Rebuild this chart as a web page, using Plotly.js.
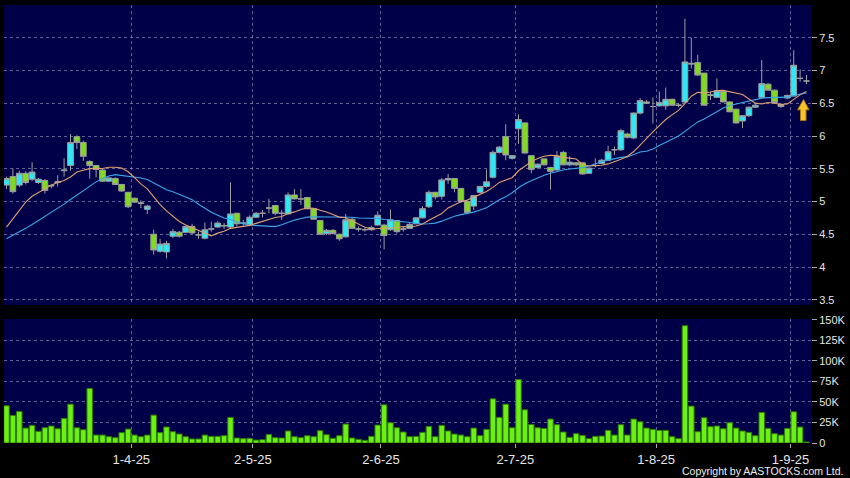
<!DOCTYPE html>
<html>
<head>
<meta charset="utf-8">
<script src="https://cdn.plot.ly/plotly-3.0.1.min.js"></script>
<style>
html,body{margin:0;padding:0;background:#000;}
#chart{width:850px;height:478px;}
</style>
</head>
<body>
<div id="chart"></div>
<script>
// ---- data ----
const dates = [
'2025-03-04','2025-03-05','2025-03-06','2025-03-07',
'2025-03-10','2025-03-11','2025-03-12','2025-03-13','2025-03-14',
'2025-03-17','2025-03-18','2025-03-19','2025-03-20','2025-03-21',
'2025-03-24','2025-03-25','2025-03-26','2025-03-27','2025-03-28',
'2025-03-31',
'2025-04-01','2025-04-02','2025-04-03',
'2025-04-07','2025-04-08','2025-04-09','2025-04-10','2025-04-11',
'2025-04-14','2025-04-15','2025-04-16','2025-04-17',
'2025-04-22','2025-04-23','2025-04-24','2025-04-25',
'2025-04-28','2025-04-29','2025-04-30',
'2025-05-02',
'2025-05-06','2025-05-07','2025-05-08','2025-05-09',
'2025-05-12','2025-05-13','2025-05-14','2025-05-15','2025-05-16',
'2025-05-19','2025-05-20','2025-05-21','2025-05-22','2025-05-23',
'2025-05-26','2025-05-27','2025-05-28','2025-05-29','2025-05-30',
'2025-06-02','2025-06-03','2025-06-04','2025-06-05','2025-06-06',
'2025-06-09','2025-06-10','2025-06-11','2025-06-12','2025-06-13',
'2025-06-16','2025-06-17','2025-06-18','2025-06-19','2025-06-20',
'2025-06-23','2025-06-24','2025-06-25','2025-06-26','2025-06-27',
'2025-06-30',
'2025-07-02','2025-07-03','2025-07-04',
'2025-07-07','2025-07-08','2025-07-09','2025-07-10','2025-07-11',
'2025-07-14','2025-07-15','2025-07-16','2025-07-17','2025-07-18',
'2025-07-21','2025-07-22','2025-07-23','2025-07-24','2025-07-25',
'2025-07-28','2025-07-29','2025-07-30','2025-07-31',
'2025-08-01',
'2025-08-04','2025-08-05','2025-08-06','2025-08-07','2025-08-08',
'2025-08-11','2025-08-12','2025-08-13','2025-08-14','2025-08-15',
'2025-08-18','2025-08-19','2025-08-20','2025-08-21','2025-08-22',
'2025-08-25','2025-08-26','2025-08-27','2025-08-28','2025-08-29',
'2025-09-01','2025-09-02','2025-09-03'
];

const openP = [
5.25,5.38,5.25,5.43,5.34,5.29,5.32,5.24,5.29,5.47,
5.55,5.99,5.90,5.61,5.55,5.48,5.31,5.35,5.26,5.14,
5.05,4.98,4.88,4.50,4.24,4.23,4.47,4.53,4.53,4.62,
4.49,4.44,4.58,4.61,4.63,4.61,4.82,4.67,4.65,4.76,
4.82,4.90,4.94,4.82,4.81,5.10,5.04,5.06,4.89,4.71,
4.51,4.56,4.50,4.46,4.73,4.58,4.57,4.57,4.64,4.64,
4.57,4.71,4.58,4.59,4.66,4.75,4.92,5.14,5.08,5.33,
5.35,5.20,5.00,4.93,5.14,5.23,5.37,5.75,5.99,5.66,
6.11,6.20,5.70,5.52,5.65,5.52,5.48,5.75,5.56,5.59,
5.59,5.43,5.55,5.58,5.63,5.79,5.79,6.03,5.97,6.35,
6.52,6.45,6.46,6.46,6.56,6.47,6.52,7.11,7.12,6.96,
6.63,6.59,6.68,6.52,6.41,6.23,6.31,6.44,6.59,6.79,
6.70,6.45,6.58,6.61,6.88,6.84
];
const highP = [
5.38,5.50,5.47,5.46,5.60,5.36,5.34,5.27,5.40,5.66,
6.03,6.01,5.93,5.63,5.56,5.50,5.37,5.37,5.27,5.15,
5.06,5.02,4.95,4.57,4.43,4.40,4.58,4.55,4.63,4.66,
4.54,4.68,4.69,4.70,4.67,5.29,4.83,4.72,4.79,4.84,
4.87,5.04,4.94,4.87,5.14,5.19,5.19,5.07,4.89,4.71,
4.58,4.58,4.51,4.81,4.75,4.62,4.60,4.63,4.85,4.66,
4.88,4.72,4.62,4.67,4.76,4.93,5.17,5.15,5.36,5.42,
5.36,5.20,5.00,5.10,5.24,5.49,5.78,5.85,6.18,5.71,
6.33,6.21,5.70,5.58,5.66,5.53,5.77,5.77,5.69,5.60,
5.60,5.52,5.66,5.65,5.85,5.84,6.11,6.05,6.36,6.58,
6.55,6.59,6.68,6.74,6.57,6.50,7.79,7.50,7.24,6.96,
6.68,6.88,6.69,6.53,6.41,6.32,6.45,6.49,7.16,6.81,
6.71,6.50,6.63,7.31,7.02,6.93
];
const lowP = [
5.19,5.12,5.22,5.26,5.31,5.27,5.12,5.20,5.23,5.38,
5.47,5.80,5.62,5.35,5.37,5.30,5.30,5.25,5.15,4.90,
4.98,4.90,4.81,4.19,4.22,4.13,4.44,4.45,4.52,4.50,
4.43,4.42,4.54,4.60,4.58,4.58,4.62,4.63,4.63,4.75,
4.76,4.82,4.79,4.72,4.80,5.03,4.95,4.88,4.72,4.49,
4.49,4.50,4.40,4.45,4.58,4.54,4.54,4.55,4.63,4.27,
4.55,4.51,4.54,4.58,4.65,4.74,4.90,5.03,5.03,5.27,
5.14,4.98,4.81,4.87,5.12,5.21,5.35,5.73,5.63,5.64,
5.88,5.73,5.43,5.50,5.55,5.18,5.47,5.55,5.54,5.54,
5.41,5.42,5.52,5.57,5.62,5.71,5.77,5.96,5.95,6.33,
6.49,6.19,6.45,6.40,6.46,6.44,6.50,7.03,6.92,6.47,
6.55,6.58,6.52,6.36,6.19,6.12,6.29,6.43,6.58,6.69,
6.50,6.43,6.56,6.60,6.83,6.79
];
const closeP = [
5.35,5.15,5.43,5.29,5.45,5.34,5.17,5.24,5.30,5.48,
5.90,5.90,5.69,5.55,5.49,5.31,5.36,5.26,5.16,4.92,
4.99,4.97,4.93,4.26,4.35,4.36,4.54,4.47,4.62,4.52,
4.49,4.57,4.58,4.67,4.63,4.81,4.66,4.67,4.76,4.82,
4.82,4.90,4.82,4.82,5.10,5.04,5.04,4.89,4.73,4.50,
4.56,4.51,4.43,4.72,4.59,4.58,4.57,4.60,4.79,4.48,
4.72,4.54,4.58,4.65,4.75,4.89,5.14,5.07,5.33,5.35,
5.20,5.00,4.83,5.09,5.23,5.30,5.75,5.83,5.71,5.70,
6.25,5.74,5.49,5.57,5.56,5.46,5.69,5.56,5.60,5.56,
5.42,5.51,5.55,5.63,5.76,5.79,6.08,5.98,6.35,6.54,
6.50,6.45,6.51,6.56,6.47,6.47,7.13,7.10,6.93,6.47,
6.62,6.69,6.52,6.37,6.20,6.31,6.44,6.47,6.80,6.70,
6.51,6.48,6.62,7.08,6.88,6.84
];

// volume in shares
const volume = [
45400,33600,38500,18200,21500,14200,18600,20700,17400,30000,
47400,18600,16200,66500,9700,9700,7700,6500,12600,17000,
9700,7700,9700,34000,12600,19500,13800,11000,7700,4900,
4900,9700,8100,8100,8900,31200,6100,5300,5700,3600,
4000,10500,6500,6100,14600,7700,6500,8900,7700,15000,
10100,5700,8900,23100,6100,4500,3200,8100,21900,46600,
24700,18600,13400,7700,8100,13000,20300,7700,21500,14600,
10900,9700,7700,18200,8900,16600,53900,31200,47400,18600,
77400,40500,22700,18600,17800,29200,22300,13400,6900,11400,
9300,5300,8100,8500,15400,9700,22300,9700,29200,25900,
18200,16600,15400,15400,7700,5300,143000,45000,13800,30800,
19900,20700,17400,24700,18200,14600,13000,8900,37300,17800,
11400,9700,17800,38100,19500,1200
];

// moving averages (orange = short, blue = long) as drawn on the reference
const maShort = [
4.61,4.74,4.87,4.99,5.08,5.14,5.20,5.25,5.29,5.32,
5.375,5.45,5.476,5.502,5.506,5.503,5.522,5.524,5.51,5.454,
5.363,5.27,5.194,5.065,4.951,4.856,4.774,4.695,4.641,4.601,
4.551,4.511,4.476,4.517,4.545,4.59,4.602,4.622,4.636,4.666,
4.699,4.732,4.756,4.771,4.818,4.841,4.879,4.901,4.898,4.866,
4.84,4.801,4.762,4.752,4.701,4.655,4.608,4.579,4.585,4.583,
4.599,4.602,4.617,4.61,4.626,4.657,4.714,4.761,4.815,4.902,
4.95,4.996,5.021,5.065,5.113,5.154,5.215,5.291,5.329,5.364,
5.469,5.543,5.609,5.657,5.69,5.706,5.70,5.673,5.662,5.648,
5.565,5.542,5.548,5.554,5.574,5.607,5.646,5.688,5.763,5.861,
5.969,6.063,6.159,6.252,6.323,6.391,6.496,6.608,6.666,6.659,
6.671,6.695,6.696,6.677,6.65,6.634,6.565,6.502,6.489,6.512,
6.501,6.48,6.49,6.561,6.628,6.681
];
const maLong = [
4.43,4.48,4.53,4.59,4.65,4.71,4.77,4.83,4.90,4.96,
5.03,5.10,5.17,5.24,5.30,5.35,5.39,5.41,5.40,5.387,
5.369,5.36,5.335,5.284,5.229,5.18,5.148,5.11,5.076,5.028,
4.957,4.891,4.835,4.791,4.748,4.723,4.688,4.659,4.639,4.634,
4.625,4.622,4.616,4.644,4.682,4.716,4.741,4.762,4.767,4.766,
4.77,4.767,4.759,4.762,4.76,4.748,4.744,4.74,4.742,4.725,
4.72,4.702,4.69,4.681,4.664,4.656,4.661,4.67,4.70,4.743,
4.775,4.799,4.819,4.838,4.87,4.906,4.965,5.026,5.072,5.133,
5.21,5.27,5.315,5.361,5.402,5.43,5.458,5.482,5.496,5.506,
5.517,5.543,5.579,5.606,5.632,5.657,5.673,5.681,5.713,5.755,
5.767,5.803,5.854,5.903,5.949,5.999,6.071,6.148,6.215,6.26,
6.32,6.379,6.428,6.465,6.487,6.513,6.531,6.555,6.578,6.586,
6.586,6.588,6.593,6.619,6.639,6.658
];

const tickDates  = ['2025-04-01','2025-05-02','2025-06-02','2025-07-02','2025-08-01','2025-09-01'];
const tickLabels = ['1-4-25','2-5-25','2-6-25','2-7-25','1-8-25','1-9-25'];
const priceTicks = [3.5,4,4.5,5,5.5,6,6.5,7,7.5];
const priceTickLabels = ['3.5','4','4.5','5','5.5','6','6.5','7','7.5'];
const volTicks = [0,25000,50000,75000,100000,125000,150000];
const volTickLabels = ['0','25K','50K','75K','100K','125K','150K'];

// ---- chart ----
const idx = dates.map((d, i) => i);
const tickVals = tickDates.map(d => dates.indexOf(d) - 0.5);
const FONT = 'Liberation Sans, Arial, sans-serif';
const GRID = {showgrid:true, gridcolor:'rgba(130,130,180,0.75)', griddash:'3px,3px', gridwidth:1,
              zeroline:false, showline:false, fixedrange:true};

const traces = [
  {
    type:'candlestick', x: idx, open: openP, high: highP, low: lowP, close: closeP,
    text: dates, xaxis:'x2', yaxis:'y2', whiskerwidth:0, hoverinfo:'skip',
    increasing:{line:{color:'#9e9e9e', width:1}, fillcolor:'#2ee8f4'},
    decreasing:{line:{color:'#9e9e9e', width:1}, fillcolor:'#80da1e'}
  },
  {type:'scatter', mode:'lines', x: idx, y: maLong, xaxis:'x2', yaxis:'y2',
   line:{color:'#3aa6e6', width:1.1}, hoverinfo:'skip'},
  {type:'scatter', mode:'lines', x: idx, y: maShort, xaxis:'x2', yaxis:'y2',
   line:{color:'#e0a070', width:1.1}, hoverinfo:'skip'},
  {type:'bar', x: idx, y: volume, xaxis:'x', yaxis:'y', hoverinfo:'skip',
   marker:{color:'#6cf014', line:{color:'#2e7a00', width:1}}}
];

const layout = {
  width:850, height:478,
  paper_bgcolor:'#000000', plot_bgcolor:'#000048',
  margin:{l:4, r:39, t:5, b:35},
  showlegend:false,
  boxgap:0.1, boxgroupgap:0,
  bargap:0.14,
  xaxis: Object.assign({}, GRID, {
    domain:[0,1], anchor:'y', range:[-0.39,125.7],
    tickmode:'array', tickvals: tickVals, ticktext: tickLabels,
    ticks:'outside', ticklen:4, tickcolor:'#aaaaaa',
    tickfont:{family:FONT, size:13, color:'#e6e6e6'}
  }),
  xaxis2: Object.assign({}, GRID, {
    domain:[0,1], anchor:'y2', range:[-0.39,125.7],
    tickmode:'array', tickvals: tickVals, showticklabels:false, ticks:'',
    rangeslider:{visible:false}
  }),
  yaxis: Object.assign({}, GRID, {
    domain:[0,0.2831], anchor:'x', side:'right', range:[0,151200],
    tickmode:'array', tickvals: volTicks, ticktext: volTickLabels,
    ticks:'outside', ticklen:5, tickcolor:'#aaaaaa',
    tickfont:{family:FONT, size:11, color:'#e6e6e6'}
  }),
  yaxis2: Object.assign({}, GRID, {
    domain:[0.3151,1], anchor:'x2', side:'right', range:[3.42,8.0],
    tickmode:'array', tickvals: priceTicks, ticktext: priceTickLabels,
    ticks:'outside', ticklen:5, tickcolor:'#aaaaaa',
    tickfont:{family:FONT, size:11, color:'#e6e6e6'}
  }),
  shapes:[
    {type:'path', xref:'x2', yref:'y2',
     path:'M 123.6 6.40 L 124.53 6.556 L 125.4 6.40 L 124.92 6.40 L 124.92 6.236 L 124.06 6.236 L 124.06 6.40 Z',
     fillcolor:'#f6c42a', line:{color:'#b07a12', width:1}}
  ],
  annotations:[
    {xref:'paper', yref:'paper', x:1.0421, y:-0.064, xanchor:'right', yanchor:'middle',
     text:'Copyright by AASTOCKS.com Ltd.', showarrow:false,
     font:{family:FONT, size:10.5, color:'#eeeeee'}}
  ]
};

Plotly.newPlot('chart', traces, layout, {displayModeBar:false, staticPlot:true});
</script>
</body>
</html>
